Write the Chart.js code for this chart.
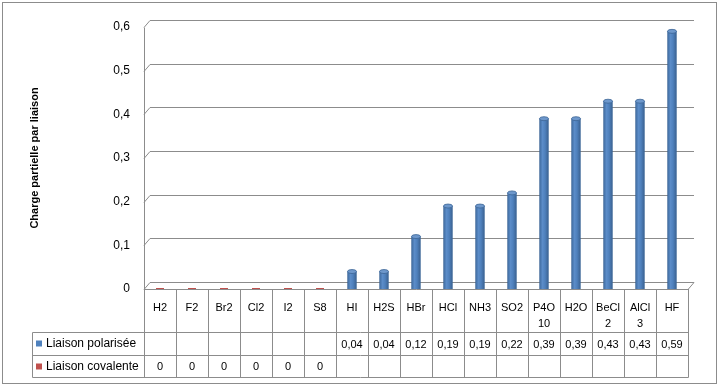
<!DOCTYPE html>
<html>
<head>
<meta charset="utf-8">
<script src="https://cdn.jsdelivr.net/npm/chart.js@4.4.1/dist/chart.umd.min.js"></script>
<style>
  html, body { margin: 0; padding: 0; background: #fff; }
  canvas { display: block; }
</style>
</head>
<body>
<canvas id="chart" width="720" height="387"></canvas>
<script>
// data
const categories = ['H2', 'F2', 'Br2', 'Cl2', 'I2', 'S8', 'HI', 'H2S', 'HBr', 'HCl', 'NH3', 'SO2', 'P4O10', 'H2O', 'BeCl2', 'AlCl3', 'HF'];
const polarisee = [null, null, null, null, null, null, 0.04, 0.04, 0.12, 0.19, 0.19, 0.22, 0.39, 0.39, 0.43, 0.43, 0.59];
const covalente = [0, 0, 0, 0, 0, 0, null, null, null, null, null, null, null, null, null, null, null];
const yTicks = [0, 0.1, 0.2, 0.3, 0.4, 0.5, 0.6];

const BLUE = '#4F81BD';
const RED = '#C0504D';
const GRID = '#8C8C8C';
const FONT = '"Liberation Sans", Arial, sans-serif';

function fmt(v) {
    if (v === null || v === undefined) return '';
    return String(v).replace('.', ',');
}

// wraps a label char by char when wider than the cell
function wrap(ctx, text, maxW) {
    const lines = [];
    let cur = '';
    for (const ch of text) {
        if (cur && ctx.measureText(cur + ch).width > maxW) {
            lines.push(cur);
            cur = ch;
        } else {
            cur += ch;
        }
    }
    if (cur) lines.push(cur);
    return lines;
}

// cylinder shading for the bars
function barFill(context) {
    const chart = context.chart;
    const x = chart.scales.x;
    if (!x || !chart.chartArea) return BLUE;
    const cx = x.getPixelForValue(context.dataIndex);
    const g = chart.ctx.createLinearGradient(cx - 5, 0, cx + 5, 0);
    g.addColorStop(0, '#3A6597');
    g.addColorStop(0.35, '#5B8CC8');
    g.addColorStop(0.6, '#4F81BD');
    g.addColorStop(1, '#385D8A');
    return g;
}

// 3D-ish back wall grid + floor
const wallPlugin = {
    id: 'wall',
    beforeDatasetsDraw(chart) {
        const { ctx, chartArea: a, scales: { y } } = chart;
        const dx = 6, dy = 7;
        ctx.save();
        ctx.strokeStyle = GRID;
        ctx.lineWidth = 1;
        yTicks.forEach(v => {
            const py = Math.round(y.getPixelForValue(v)) + 0.5;
            ctx.beginPath();
            ctx.moveTo(a.left, py);
            ctx.lineTo(a.left + dx, py - dy);
            ctx.lineTo(a.right + dx, py - dy);
            ctx.stroke();
        });
        // left axis
        const y0 = Math.round(y.getPixelForValue(0)) + 0.5;
        const yTop = Math.round(y.getPixelForValue(0.6)) + 0.5;
        ctx.beginPath();
        ctx.moveTo(a.left + 0.5, yTop);
        ctx.lineTo(a.left + 0.5, y0);
        ctx.lineTo(a.right, y0);
        ctx.lineTo(a.right + dx, y0 - dy);
        ctx.stroke();
        ctx.restore();
    },
    afterDatasetsDraw(chart) {
        // elliptic caps on the columns
        const ctx = chart.ctx;
        const meta = chart.getDatasetMeta(0);
        ctx.save();
        meta.data.forEach((bar, i) => {
            if (polarisee[i] === null) return;
            ctx.beginPath();
            ctx.ellipse(bar.x, bar.y, bar.width / 2, 2, 0, 0, Math.PI * 2);
            ctx.fillStyle = '#6E98CC';
            ctx.fill();
            ctx.strokeStyle = '#3B6596';
            ctx.lineWidth = 0.8;
            ctx.stroke();
        });
        ctx.restore();
    }
};

// data table under the plot
const tablePlugin = {
    id: 'dataTable',
    afterDraw(chart) {
        const { ctx, chartArea: a, scales: { x } } = chart;
        const colW = (a.right - a.left) / categories.length;
        const top = Math.round(a.bottom);
        const row1 = 332, row2 = 355, bottom = 377;
        const legendLeft = 32;
        ctx.save();
        ctx.strokeStyle = GRID;
        ctx.lineWidth = 1;
        // vertical lines
        for (let i = 0; i <= categories.length; i++) {
            const px = Math.round(a.left + i * colW) + 0.5;
            ctx.beginPath();
            ctx.moveTo(px, top);
            ctx.lineTo(px, bottom + 0.5);
            ctx.stroke();
        }
        // horizontal lines
        [row1, row2, bottom].forEach(r => {
            ctx.beginPath();
            ctx.moveTo(legendLeft + 0.5, r + 0.5);
            ctx.lineTo(a.right + 0.5, r + 0.5);
            ctx.stroke();
        });
        ctx.beginPath();
        ctx.moveTo(legendLeft + 0.5, row1 + 0.5);
        ctx.lineTo(legendLeft + 0.5, bottom + 0.5);
        ctx.stroke();

        ctx.fillStyle = '#000';
        ctx.font = '11px ' + FONT;
        ctx.textAlign = 'center';
        ctx.textBaseline = 'middle';
        categories.forEach((c, i) => {
            const cx = x.getPixelForValue(i);
            const lines = wrap(ctx, c, colW - 7);
            lines.forEach((ln, k) => ctx.fillText(ln, cx, 308 + k * 16));
            ctx.fillText(fmt(polarisee[i]), cx, (row1 + row2) / 2 + 1);
            ctx.fillText(fmt(covalente[i]), cx, (row2 + bottom) / 2 + 1);
        });

        // legend keys in the table
        ctx.textAlign = 'left';
        ctx.font = '12px ' + FONT;
        [[BLUE, 'Liaison polarisée', row1], [RED, 'Liaison covalente', row2]].forEach(([col, name, r]) => {
            const cy = r + 11.5;
            ctx.fillStyle = col;
            ctx.fillRect(legendLeft + 4, cy - 3, 6, 6);
            ctx.fillStyle = '#000';
            ctx.fillText(name, legendLeft + 14, cy);
        });

        // outer frame
        ctx.strokeStyle = '#8C8C8C';
        ctx.strokeRect(2.5, 2.5, 714, 381);
        ctx.restore();
    }
};

new Chart(document.getElementById('chart'), {
    data: {
        labels: categories,
        datasets: [{
            type: 'bar',
            label: 'Liaison polarisée',
            data: polarisee,
            backgroundColor: barFill,
            borderColor: '#3B6596',
            borderWidth: 0.8,
            barThickness: 9
        }, {
            type: 'line',
            label: 'Liaison covalente',
            data: covalente,
            showLine: false,
            pointStyle: 'line',
            pointRadius: 4,
            pointHoverRadius: 4,
            borderColor: RED,
            borderWidth: 2,
            backgroundColor: RED
        }]
    },
    options: {
        responsive: false,
        animation: false,
        layout: {
            padding: { top: 27, right: 32, bottom: 98, left: 0 }
        },
        plugins: {
            legend: { display: false },
            tooltip: { enabled: false }
        },
        scales: {
            x: {
                display: false
            },
            y: {
                min: 0,
                max: 0.6,
                afterFit(scale) { scale.width = 144; },
                afterBuildTicks(scale) { scale.ticks = yTicks.map(v => ({ value: v })); },
                grid: { display: false },
                border: { display: false },
                ticks: {
                    padding: 6,
                    color: '#000',
                    font: { family: FONT, size: 12 },
                    callback: v => fmt(v)
                },
                title: {
                    display: true,
                    text: 'Charge partielle par liaison',
                    color: '#000',
                    font: { family: FONT, size: 11, weight: 'bold' },
                    padding: { top: 28, bottom: 0 }
                }
            }
        }
    },
    plugins: [wallPlugin, tablePlugin]
});
</script>
</body>
</html>
